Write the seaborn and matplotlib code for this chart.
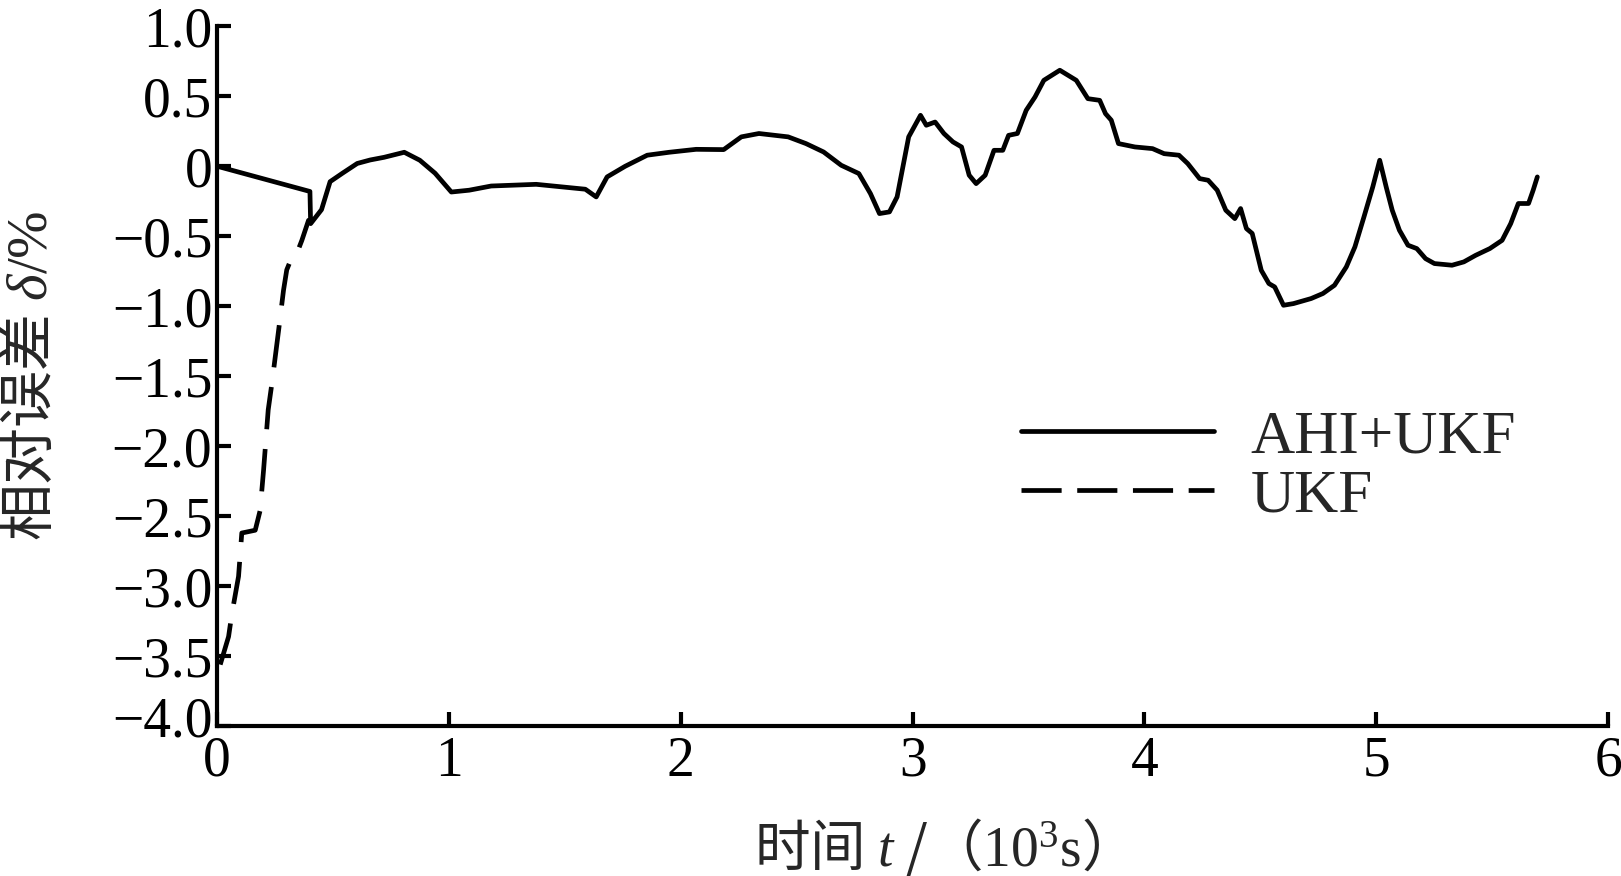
import matplotlib
matplotlib.use("Agg")
import matplotlib.pyplot as plt
import matplotlib.transforms as mtransforms
import seaborn as sns
import pandas as pd

# AHI+UKF curve (t in 10^3 s, relative error in %)
t_ahi = [0.0, 0.40, 0.403, 0.45, 0.487, 0.54, 0.604, 0.66, 0.72, 0.807, 0.874,
         0.94, 1.01, 1.087, 1.182, 1.376, 1.588, 1.635, 1.682, 1.76, 1.855,
         1.95, 2.066, 2.185, 2.261, 2.337, 2.463, 2.54, 2.616, 2.692, 2.768,
         2.818, 2.857, 2.9, 2.933, 2.983, 3.034, 3.059, 3.097, 3.135, 3.174,
         3.211, 3.244, 3.274, 3.313, 3.351, 3.389, 3.414, 3.452, 3.49, 3.528,
         3.566, 3.635, 3.706, 3.756, 3.807, 3.832, 3.857, 3.888, 3.959, 4.035,
         4.085, 4.149, 4.187, 4.238, 4.275, 4.314, 4.351, 4.39, 4.415, 4.44,
         4.465, 4.504, 4.537, 4.562, 4.60, 4.643, 4.719, 4.77, 4.82, 4.871,
         4.908, 4.947, 4.985, 5.015, 5.043, 5.069, 5.1, 5.137, 5.175, 5.213,
         5.251, 5.327, 5.378, 5.429, 5.49, 5.543, 5.58, 5.613, 5.657, 5.677,
         5.695]
err_ahi = [0.0, -0.18, -0.41, -0.31, -0.11, -0.05, 0.02, 0.045, 0.064, 0.10,
           0.043, -0.05, -0.184, -0.171, -0.141, -0.129, -0.164, -0.219,
           -0.076, 0.0, 0.079, 0.10, 0.121, 0.119, 0.21, 0.234, 0.21, 0.162,
           0.102, 0.007, -0.052, -0.195, -0.338, -0.326, -0.219, 0.21, 0.364,
           0.293, 0.316, 0.234, 0.174, 0.138, -0.064, -0.124, -0.064, 0.114,
           0.114, 0.221, 0.234, 0.40, 0.495, 0.614, 0.686, 0.614, 0.483,
           0.471, 0.376, 0.329, 0.162, 0.138, 0.126, 0.09, 0.079, 0.019,
           -0.088, -0.10, -0.171, -0.314, -0.374, -0.302, -0.445, -0.48,
           -0.743, -0.838, -0.862, -0.993, -0.981, -0.945, -0.909, -0.85,
           -0.719, -0.576, -0.362, -0.148, 0.043, -0.148, -0.314, -0.457,
           -0.564, -0.588, -0.66, -0.695, -0.707, -0.683, -0.636, -0.588,
           -0.529, -0.41, -0.266, -0.266, -0.171, -0.076]

# plain UKF curve
t_ukf = [0.013, 0.049, 0.063, 0.092, 0.106, 0.164, 0.185, 0.20, 0.22, 0.236,
         0.265, 0.286, 0.30, 0.322, 0.344, 0.365, 0.394, 0.403]
err_ukf = [-3.56, -3.36, -3.20, -2.93, -2.62, -2.60, -2.46, -2.17, -1.74,
           -1.55, -1.17, -0.886, -0.74, -0.65, -0.62, -0.53, -0.386, -0.41]

xticks = [0, 1, 2, 3, 4, 5, 6]
yticks = [1.0, 0.5, 0.0, -0.5, -1.0, -1.5, -2.0, -2.5, -3.0, -3.5, -4.0]
ytick_labels = ["1.0", "0.5", "0", "\u22120.5", "\u22121.0", "\u22121.5",
                "\u22122.0", "\u22122.5", "\u22123.0", "\u22123.5", "\u22124.0"]

sns.set_style("ticks")
plt.rcParams["font.family"] = ["Liberation Serif", "Noto Sans CJK SC"]
plt.rcParams["mathtext.fontset"] = "custom"
plt.rcParams["mathtext.rm"] = "Liberation Serif"
plt.rcParams["mathtext.it"] = "Liberation Serif:italic"

df_ahi = pd.DataFrame({"t": t_ahi, "err": err_ahi})
df_ukf = pd.DataFrame({"t": t_ukf, "err": err_ukf})

fig = plt.figure(figsize=(16.21, 8.76), dpi=100)
ax = fig.add_axes([0.134, 0.171, 0.858, 0.799])

sns.lineplot(data=df_ukf, x="t", y="err", ax=ax, color="black", lw=3.4,
             linestyle=(0, (9.0, 4.2)), sort=False, estimator=None,
             label="UKF", zorder=2)
sns.lineplot(data=df_ahi, x="t", y="err", ax=ax, color="black", lw=3.4,
             sort=False, estimator=None, label="AHI+UKF", zorder=3)

ax.set_xlim(0, 6)
ax.set_ylim(-4, 1)
ax.set_xticks(xticks)
ax.set_xticklabels([str(v) for v in xticks])
ax.set_yticks(yticks)
ax.set_yticklabels(ytick_labels)
ax.tick_params(axis="both", direction="in", length=10, width=3, labelsize=40,
               colors="black")
ax.tick_params(axis="y", pad=3.5)
ax.tick_params(axis="x", pad=7)
for side in ["top", "right"]:
    ax.spines[side].set_visible(False)
for side in ["left", "bottom"]:
    ax.spines[side].set_linewidth(3)
    ax.spines[side].set_color("black")

# lift the bottom y label a little so it clears the "0" of the x axis
lowest = ax.get_yticklabels()[-1]
lowest.set_transform(lowest.get_transform() +
                     mtransforms.ScaledTranslation(0, 10 / 100, fig.dpi_scale_trans))

ax.set_xlabel("时间 $t$ /（$\\mathrm{10^3s}$）", fontsize=40,
              family="Noto Sans CJK SC")
ax.xaxis.label.set_va("center")
ax.xaxis.set_label_coords(0.51, -0.174)
ax.set_ylabel("相对误差 $\\delta\\mathrm{/\\%}$", fontsize=41,
              family="Noto Sans CJK SC")
ax.yaxis.label.set_va("center")
ax.yaxis.set_label_coords(-0.134, 0.5)

handles, labels = ax.get_legend_handles_labels()
order = [labels.index("AHI+UKF"), labels.index("UKF")]
leg = ax.legend([handles[i] for i in order], [labels[i] for i in order],
                loc="center left", bbox_to_anchor=(0.578, 0.37), frameon=False,
                fontsize=44, handlelength=3.15, handletextpad=0.6,
                labelspacing=0.05, borderpad=0, borderaxespad=0)
# four full dashes in the legend sample
leg.get_lines()[1].set_linestyle((0, (8.5, 3.3)))

fig.savefig("out.png", dpi=100)
